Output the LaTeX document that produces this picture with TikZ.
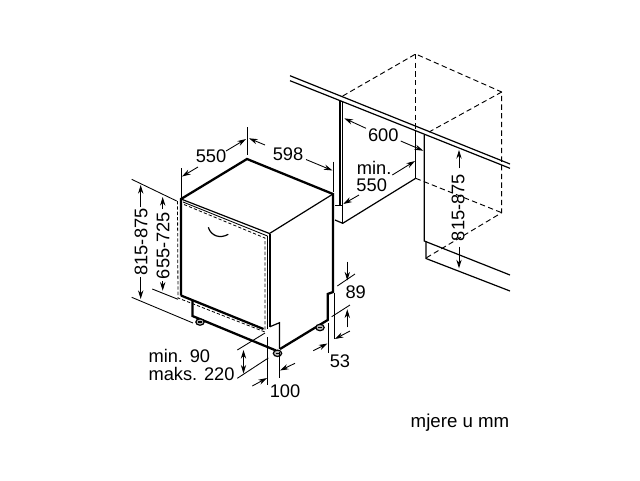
\documentclass[tikz,border=0pt]{standalone}
\usepackage{fontspec}
\setmainfont{Liberation Sans}
\usetikzlibrary{arrows.meta}
\tikzset{
  thin line/.style={line width=0.65pt,black},
  mid line/.style={line width=0.9pt,black},
  thick line/.style={line width=1.7pt,black,line join=miter},
  dash line/.style={line width=0.7pt,black,dash pattern=on 4pt off 2.5pt},
  fine dash/.style={line width=0.6pt,black,dash pattern=on 2.5pt off 1.5pt},
  dim/.style={line width=0.65pt,black,-{Stealth[length=6.5pt,width=4pt]}},
  lab/.style={font=\fontsize{13.7}{15}\selectfont,inner sep=0pt,black},
  foot/.style={line width=0.9pt,draw=black,fill=gray!55}
}
\begin{document}
\begin{tikzpicture}[x=0.75pt,y=-0.75pt]
\useasboundingbox (0,0) rectangle (640,480);
% dishwasher body
\draw[thick line] (181,295.5) -- (181,199) -- (247,159) -- (333,194) -- (333,292) -- (327.7,294) -- (327.7,320) -- (280,349);
\draw[thick line] (181,295.5) -- (263.5,329);
\draw[thick line] (192.5,300) -- (192.5,316) -- (276,350.5);
\draw[mid line] (181,199) -- (269.5,233.5) -- (333,194);
\draw[thin line] (183,202) -- (267.5,236);
\draw[mid line] (270,233.5) -- (270,326.7);
\draw[thin line] (267.5,236) -- (267.5,329);
\draw[fine dash] (184,204.5) -- (265,238) -- (265,331);
\draw[fine dash] (177.5,201) -- (178,298) -- (265,332);
\draw[mid line] (270,326.7) -- (279.5,322.7) -- (279.5,349);
\draw[mid line] (208.3,227.3) .. controls (211,236) and (220,239) .. (228.3,234.3);
% feet
\foreach \n/\x/\y in {fa/200/322,fb/320/327.5,fc/277.5/353.3}{
  \draw[foot] (\x,\y) ellipse [x radius=4.2,y radius=3.2];
  \draw[line width=0.8pt,black] (\x-2,\y) -- (\x+2,\y);
}
% dishwasher dimensions
\draw[thin line] (181,168) -- (181,199);
\draw[thin line] (247.3,127) -- (247.3,155);
\draw[thin line] (333.3,161.5) -- (333.3,192);
\draw[dim] (198,167) -- (182,176.5);
\draw[dim] (226,151) -- (246,139);
\draw[dim] (265,145) -- (249,138.3);
\draw[dim] (306,159.5) -- (332.5,170.5);
\node[lab] (t550) at (211,156.7) {550};
\node[lab] (t598) at (288,154.3) {598};
\draw[thin line] (131.7,179.3) -- (176.7,201);
\draw[thin line] (131.7,297.3) -- (193,323);
\draw[thin line] (152.3,289) -- (178,299.3);
\draw[dim] (140.7,207) -- (140.7,185);
\draw[dim] (140.7,277) -- (140.7,299);
\draw[dim] (162.7,209) -- (162.7,197);
\draw[dim] (162.7,281) -- (162.7,290.7);
\node[lab,rotate=90] (t815) at (141,242) {815-875};
\node[lab,rotate=90] (t655) at (163,245.5) {655-725};
% lower dimensions right
\draw[thin line] (337.3,286) -- (355,274);
\draw[thin line] (331.7,316.7) -- (350,305);
\draw[thin line] (334,293) -- (334,339);
\draw[thin line] (328.3,323) -- (328.3,353);
\draw[dim] (347.3,261.7) -- (347.3,280.5);
\draw[dim] (347.3,327.3) -- (347.3,309.3);
\draw[dim] (313.3,350.7) -- (327.5,343.5);
\draw[dim] (350,331) -- (334.8,339);
\node[lab] (t89) at (355.7,292.7) {89};
\node[lab] (t53) at (340,361) {53};
% lower dimensions front
\draw[thin line] (237.3,350) -- (265,333);
\draw[thin line] (237.3,378.3) -- (268.3,358);
\draw[thin line] (267.5,337) -- (267.5,385);
\draw[thin line] (279,352) -- (279,378);
\draw[line width=0.65pt,{Stealth[length=6.5pt,width=4pt]}-{Stealth[length=6.5pt,width=4pt]}] (243.5,350) -- (243.5,373.5);
\draw[dim] (252.3,386) -- (267,378);
\draw[dim] (295,363.3) -- (280,370.5);
\node[lab,anchor=west] (tmin) at (148.3,356) {min. 90};
\node[lab,anchor=west] (tmaks) at (148.3,374) {maks. 220};
\node[lab] (t100) at (285,391.7) {100};
% kitchen niche
\draw[mid line] (290,75.7) -- (510,164);
\draw[mid line] (290,80.7) -- (510,168.3);
\draw[mid line] (340,100.7) -- (340,205.7);
\draw[mid line] (342.7,102.3) -- (342.7,223.3);
\draw[thin line] (335,205.7) -- (342.7,205.7);
\draw[mid line] (335,220) -- (342.7,223.3) -- (415.7,178.3);
\draw[mid line] (415.7,130) -- (415.7,178.3);
\draw[mid line] (424.3,135) -- (424.3,241) -- (510,275);
\draw[mid line] (426,241) -- (426,258.5) -- (510,291);
\draw[dash line] (342.7,96) -- (415.7,54) -- (501.7,92) -- (501.7,212.7) -- (426,258);
\draw[dash line] (415.7,54) -- (415.7,130);
\draw[dash line] (501.7,92) -- (429,132);
\draw[dash line] (415.7,178.3) -- (501.7,212.7);
% niche dimensions
\draw[dim] (366,128.3) -- (344.3,118.3);
\draw[dim] (400.7,141) -- (423.3,150.7);
\node[lab] (t600) at (383.3,135.7) {600};
\draw[dim] (392.3,175) -- (415,161);
\draw[dim] (359,195) -- (343.3,204);
\node[lab,anchor=west] (tm) at (356.7,168.3) {min.};
\node[lab,anchor=west] (t5) at (356.2,185.7) {550};
\draw[dim] (459,168.3) -- (459,150);
\draw[dim] (459,246.7) -- (459,268.3);
\node[lab,rotate=90] (t815b) at (458,207.5) {815-875};
\node[lab,font=\fontsize{14}{16}\selectfont] (tunit) at (460,423) {mjere u mm};
\end{tikzpicture}
\end{document}
